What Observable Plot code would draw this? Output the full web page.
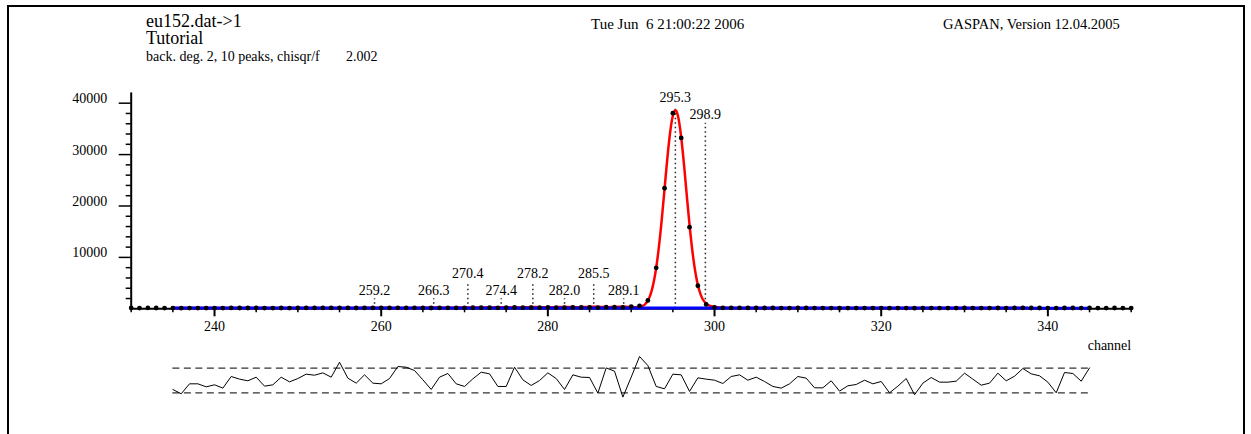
<!DOCTYPE html>
<html>
<head>
<meta charset="utf-8">
<script src="https://cdn.jsdelivr.net/npm/d3@7"></script>
<script src="https://cdn.jsdelivr.net/npm/@observablehq/plot@0.6"></script>
<style>
  html, body { margin: 0; padding: 0; background: #fff; }
  #page { position: relative; width: 1251px; height: 434px; overflow: hidden;
          font-family: "Liberation Serif", "Times New Roman", serif; color: #000; }
  #frame { position: absolute; left: 7px; top: 5px; width: 1234px; height: 480px;
           border: 2px solid #000; border-bottom: none; }
  .hd { position: absolute; white-space: pre; line-height: 15px; }
  #main, #resid { position: absolute; left: 0; }
  #main { top: 0; }
  #resid { top: 350px; }
  #main svg, #resid svg { font-family: "Liberation Serif", "Times New Roman", serif; }
</style>
</head>
<body>
<div id="page">
  <div id="frame"></div>
  <div class="hd" style="left:146px; top:13px; font-size:18px; line-height:16.6px">eu152.dat-&gt;1
Tutorial</div>
  <div class="hd" style="left:146px; top:49px; font-size:14px">back. deg. 2, 10 peaks, chisqr/f</div>
  <div class="hd" style="left:346px; top:49px; font-size:14px">2.002</div>
  <div class="hd" style="left:591px; top:17px; font-size:15px">Tue Jun  6 21:00:22 2006</div>
  <div class="hd" style="left:943px; top:17px; font-size:14.5px">GASPAN, Version 12.04.2005</div>
  <div id="main"></div>
  <div id="resid"></div>
</div>
<script>
// ---- spectrum: counts per channel, starting at firstChannel ----
const firstChannel = 230;
const counts = [
  158, 149, 163, 152, 147, 141, 126, 149, 150, 139,
  146, 137, 161, 157, 152, 161, 138, 142, 160, 148,
  156, 167, 166, 170, 162, 190, 165, 157, 175, 162,
  158, 170, 196, 197, 190, 175, 160, 186, 196, 172,
  178, 201, 223, 226, 195, 200, 258, 226, 212, 228,
  255, 244, 215, 268, 268, 272, 230, 318, 320, 262,
  410, 560, 1620, 7980, 23450, 38050, 33250, 15880, 4480, 850,
  262, 186, 180, 182, 170, 172, 160, 152, 148, 150,
  162, 158, 140, 139, 148, 130, 138, 140, 148, 141,
  144, 122, 134, 150, 118, 139, 149, 140, 140, 142,
  160, 147, 134, 137, 158, 142, 151, 166, 156, 152,
  141, 118, 155, 155, 142, 168, 150, 144, 158, 139, 147
];

// ---- fit: region, peaks (centroid, height), common width, quadratic background ----
const fitRange = [235, 345];
const peakCentroid = [259.2, 266.3, 270.4, 274.4, 278.2, 282.0, 285.5, 289.1, 295.3, 298.9];
const peakHeight   = [60, 90, 120, 150, 180, 200, 220, 240, 38450, 250];
const peakSigma = 1.29;
const backgroundCoef = [150, -0.2, -0.004];   // a + b(x-290) + c(x-290)^2
const backgroundRef = 290;

// ---- normalised residuals, one per channel of the fit region ----
const residuals = [
  -1.46, -2.16, -0.54, -0.54, -1.03, -0.70, -1.24, 0.65, 0.22, -0.05,
  0.54, -0.92, -0.70, 0.54, -0.22, 0.32, 1.03, 0.86, 1.24, 0.54,
  2.97, 0.38, -0.43, 0.92, -0.43, -0.54, 0.32, 2.27, 2.16, 1.62,
  0.11, -1.46, 0.54, 1.14, -0.54, -0.97, 0.27, 1.35, 1.08, -0.97,
  -0.97, 2.16, 0.11, -0.81, 0.00, 1.24, 0.32, -1.46, 0.92, 0.54,
  0.49, -2.05, 2.05, 1.51, -2.70, 0.54, 3.90, 2.43, -0.97, -1.35,
  1.03, 0.92, -1.78, 0.43, 0.22, 0.05, -0.49, 0.65, 0.92, 0.05,
  0.54, -0.16, -0.97, -1.24, -0.54, 0.65, 0.38, -1.19, -1.19, -0.05,
  -1.73, -0.86, -0.65, 0.05, -0.54, -0.16, -2.00, -0.92, 0.32, -2.32,
  -0.43, 0.49, -0.27, -0.27, -0.11, 1.19, 0.22, -0.76, -0.43, 1.19,
  -0.05, 0.70, 1.95, 1.08, 0.76, -0.27, -2.00, 1.30, 1.14, -0.11, 2.05
];
const residualBand = [-2, 2];

// ---- axes ----
const xDomain = [230, 350];
const yDomain = [0, 42000];
const majorX = [240, 260, 280, 300, 320, 340];
const minorX = d3.range(230, 351, 5).filter(d => d % 20 !== 0);
const majorY = [10000, 20000, 30000, 40000];
const minorY = d3.range(2000, 40000, 2000).filter(d => d % 10000 !== 0);

// ---- layout ----
const W = 1251, H = 350;
const ML = 130.7, MR = W - 1130.7, MT = 92.4, MB = H - 308.3;
const serif = '"Liberation Serif", "Times New Roman", serif';
const svgStyle = {"font-family": serif, "font-size": "14px", "background": "none", "overflow": "visible", "color": "#000"};

const background = ch => {
  const t = ch - backgroundRef;
  return backgroundCoef[0] + backgroundCoef[1] * t + backgroundCoef[2] * t * t;
};
const fit = ch => background(ch) + d3.sum(peakCentroid, (c, i) =>
  peakHeight[i] * Math.exp(-((ch - c) ** 2) / (2 * peakSigma ** 2)));

const spectrum = counts.map((v, i) => ({ch: firstChannel + i, v}));
const fitCurve = d3.range(fitRange[0], fitRange[1] + 1e-9, 0.05).map(ch => ({ch, v: fit(ch), b: background(ch)}));
const residualData = residuals.map((r, i) => ({ch: fitRange[0] + i, r}));

// Peak labels: neighbouring peaks form a group that shares a base level just
// above the group's tallest fit value; labels that would collide with one already
// placed move one row away (upwards if there is room, otherwise downwards).
const xS = d3.scaleLinear(xDomain, [ML, W - MR]);
const yS = d3.scaleLinear(yDomain, [H - MB, MT]);
const LABEL_W = 36, ROW_H = 17;
const groups = [];
peakCentroid.forEach((c, i) => {
  const g = groups[groups.length - 1];
  if (g && c - peakCentroid[g[g.length - 1]] <= 4.2) g.push(i); else groups.push([i]);
});
const peakLabels = [];
for (const g of groups) {
  const top = d3.max(g, i => fit(peakCentroid[i]));
  const base = Math.min(yS(top) - 8, yS(0) - 14);
  const dir = base - ROW_H - 12 > MT ? -1 : 1;
  const rows = [];
  for (const i of g) {
    const px = xS(peakCentroid[i]);
    let r = 0;
    while (rows[r] && rows[r].some(q => Math.abs(q - px) < LABEL_W)) r++;
    (rows[r] = rows[r] || []).push(px);
    const by = base + dir * r * ROW_H;
    peakLabels.push({ch: peakCentroid[i], text: peakCentroid[i].toFixed(1),
                     y: yS.invert(by), lineTop: yS.invert(by + 4)});
  }
}

const txt = {fontSize: 14, fontFamily: serif, fill: "#000"};

const mainPlot = Plot.plot({
  width: W, height: H,
  marginLeft: ML, marginRight: MR, marginTop: MT, marginBottom: MB,
  style: svgStyle,
  x: {domain: xDomain, axis: null},
  y: {domain: yDomain, axis: null},
  marks: [
    // peak markers
    Plot.ruleX(peakLabels, {x: "ch", y1: 0, y2: "lineTop", stroke: "#222", strokeWidth: 1.5, strokeDasharray: "1.5,3"}),
    // axis lines
    Plot.ruleY([0], {x1: xDomain[0], x2: xDomain[1], stroke: "#000", strokeWidth: 2}),
    Plot.ruleX([xDomain[0]], {y1: yDomain[0], y2: yDomain[1], stroke: "#000", strokeWidth: 2}),
    // ticks
    Plot.ruleX(majorX, {x: d => d, y1: 0, y2: 0, insetBottom: -8, stroke: "#000", strokeWidth: 2}),
    Plot.ruleX(minorX, {x: d => d, y1: 0, y2: 0, insetBottom: -4, stroke: "#000", strokeWidth: 1.5}),
    Plot.ruleY(majorY, {y: d => d, x1: xDomain[0], x2: xDomain[0], insetLeft: -12, stroke: "#000", strokeWidth: 1.5}),
    Plot.ruleY(minorY, {y: d => d, x1: xDomain[0], x2: xDomain[0], insetLeft: -5, stroke: "#000", strokeWidth: 1.5}),
    Plot.text(majorX, {...txt, x: d => d, y: 0, text: d => String(d), dy: 18, lineAnchor: "middle"}),
    Plot.text(majorY, {...txt, x: xDomain[0], y: d => d, text: d => String(d), textAnchor: "end", dx: -24, dy: -4.5, lineAnchor: "middle"}),
    Plot.text(["channel"], {...txt, x: () => xDomain[1], y: () => 0, text: d => d, textAnchor: "end", dy: 37, lineAnchor: "middle"}),
    // fit and background
    Plot.line(fitCurve, {x: "ch", y: "v", stroke: "#f00", strokeWidth: 2.5}),
    Plot.line(fitCurve, {x: "ch", y: "b", stroke: "#00f", strokeWidth: 3}),
    // measured counts
    Plot.dot(spectrum, {x: "ch", y: "v", r: 2.4, fill: "#000", stroke: "none"}),
    // peak labels
    Plot.text(peakLabels, {...txt, x: "ch", y: "y", text: "text", lineAnchor: "bottom"})
  ]
});
document.getElementById("main").appendChild(mainPlot);

// residual strip under the spectrum, same channel scale
const RH = 84, UNIT = 6.15, RC = 30;
const residPlot = Plot.plot({
  width: W, height: RH,
  marginLeft: ML, marginRight: MR, marginTop: RC - 4 * UNIT, marginBottom: RH - (RC + 4 * UNIT),
  style: svgStyle,
  x: {domain: xDomain, axis: null},
  y: {domain: [-4, 4], axis: null},
  marks: [
    Plot.ruleY(residualBand, {x1: fitRange[0], x2: fitRange[1], stroke: "#333", strokeWidth: 1.2, strokeDasharray: "7,4.5"}),
    Plot.line(residualData, {x: "ch", y: "r", stroke: "#000", strokeWidth: 1})
  ]
});
document.getElementById("resid").appendChild(residPlot);
</script>
</body>
</html>
